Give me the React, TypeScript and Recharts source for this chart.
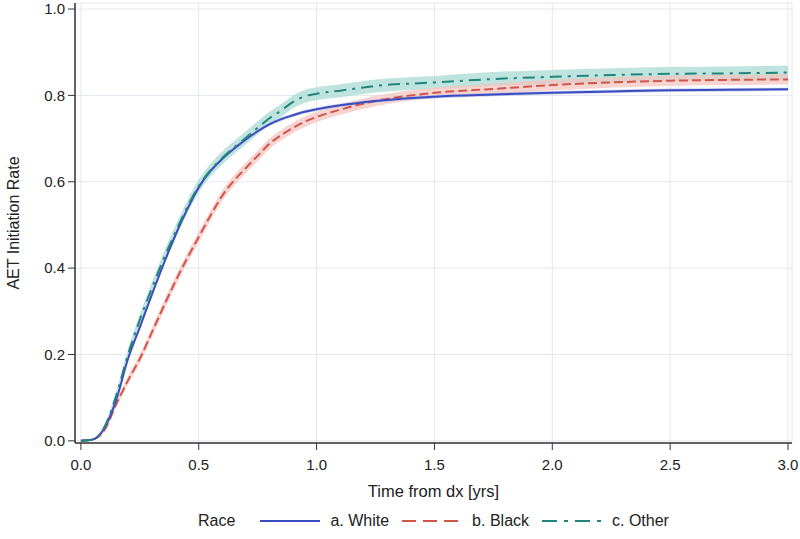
import React from "react";
import {
  ComposedChart,
  Line,
  Area,
  XAxis,
  YAxis,
  CartesianGrid,
  Legend,
} from "recharts";

// time from diagnosis in years
const times = [0, 0.05, 0.1, 0.15, 0.2, 0.25, 0.3, 0.35, 0.4, 0.45, 0.5, 0.55, 0.6, 0.7, 0.75, 0.8, 0.85, 0.9, 0.95, 1.0, 1.1, 1.25, 1.5, 1.75, 2.0, 2.25, 2.5, 2.75, 3.0];

const white = [0, 0.003, 0.03, 0.095, 0.19, 0.263, 0.337, 0.408, 0.475, 0.535, 0.587, 0.625, 0.653, 0.698, 0.717, 0.733, 0.745, 0.754, 0.762, 0.768, 0.777, 0.787, 0.797, 0.802, 0.806, 0.809, 0.812, 0.813, 0.814];
const black = [0, 0.003, 0.025, 0.085, 0.14, 0.19, 0.25, 0.31, 0.368, 0.422, 0.472, 0.522, 0.568, 0.632, 0.66, 0.688, 0.708, 0.725, 0.739, 0.75, 0.767, 0.787, 0.806, 0.815, 0.824, 0.83, 0.834, 0.836, 0.837];
const other = [0, 0.003, 0.032, 0.105, 0.2, 0.28, 0.352, 0.42, 0.482, 0.54, 0.59, 0.627, 0.655, 0.702, 0.725, 0.747, 0.765, 0.785, 0.798, 0.804, 0.811, 0.822, 0.83, 0.838, 0.843, 0.847, 0.85, 0.851, 0.853];

// confidence band half-widths
const whiteCI = [0, 0, 0.002, 0.003, 0.004, 0.004, 0.004, 0.004, 0.004, 0.004, 0.004, 0.004, 0.004, 0.004, 0.004, 0.004, 0.004, 0.004, 0.004, 0.004, 0.004, 0.004, 0.004, 0.004, 0.004, 0.004, 0.004, 0.004, 0.004];
const blackCI = [0, 0.001, 0.005, 0.008, 0.01, 0.011, 0.011, 0.012, 0.012, 0.012, 0.012, 0.012, 0.012, 0.012, 0.012, 0.012, 0.012, 0.012, 0.012, 0.012, 0.012, 0.012, 0.012, 0.012, 0.012, 0.012, 0.012, 0.012, 0.012];
const otherCI = [0, 0.001, 0.006, 0.01, 0.012, 0.013, 0.014, 0.015, 0.015, 0.015, 0.015, 0.015, 0.015, 0.015, 0.015, 0.015, 0.015, 0.015, 0.015, 0.015, 0.015, 0.015, 0.015, 0.016, 0.016, 0.016, 0.016, 0.016, 0.016];

const xTicks = [0, 0.5, 1.0, 1.5, 2.0, 2.5, 3.0];
const yTicks = [0, 0.2, 0.4, 0.6, 0.8, 1.0];

const data = times.map((t, i) => ({
  t,
  white: white[i],
  black: black[i],
  other: other[i],
  whiteBand: [white[i] - whiteCI[i], white[i] + whiteCI[i]],
  blackBand: [black[i] - blackCI[i], black[i] + blackCI[i]],
  otherBand: [other[i] - otherCI[i], other[i] + otherCI[i]],
}));

const BLUE = "#3b4cc0";
const RED = "#d0564c";
const TEAL = "#23857a";
const FONT = "'Liberation Sans', Arial, sans-serif";

const legendItems = [
  { label: "a. White", color: BLUE, dash: undefined },
  { label: "b. Black", color: RED, dash: "14 7" },
  { label: "c. Other", color: TEAL, dash: "15 7 4 7" },
];

function RaceLegend() {
  return (
    <div
      style={{
        display: "flex",
        justifyContent: "center",
        alignItems: "center",
        height: 26,
        fontFamily: FONT,
        fontSize: 16,
        color: "#222",
      }}
    >
      <span style={{ marginRight: 25 }}>Race</span>
      {legendItems.map((it, i) => (
        <span key={it.label} style={{ display: "flex", alignItems: "center", marginLeft: i === 0 ? 0 : 13 }}>
          <svg width={60} height={6} style={{ marginRight: 10 }}>
            <line x1={0} y1={3} x2={60} y2={3} stroke={it.color} strokeWidth={2} strokeDasharray={it.dash} />
          </svg>
          <span>{it.label}</span>
        </span>
      ))}
    </div>
  );
}

export default function App() {
  const tickStyle = { fill: "#222", fontSize: 15, fontFamily: FONT };
  return (
    <div style={{ position: "absolute", left: 0, top: 0, background: "#fff" }}>
      <ComposedChart width={800} height={539} data={data} margin={{ top: 3, right: 8, left: 0, bottom: 5 }}>
        <CartesianGrid stroke="#e4e7ee" strokeWidth={1} />
        <XAxis
          dataKey="t"
          type="number"
          domain={[-0.025, 3.017]}
          ticks={xTicks}
          tickFormatter={(v: number) => v.toFixed(1)}
          allowDataOverflow
          height={65}
          tick={tickStyle}
          tickSize={7}
          tickMargin={9}
          axisLine={{ stroke: "#333", strokeWidth: 1.5 }}
          tickLine={{ stroke: "#333" }}
          label={{ value: "Time from dx [yrs]", position: "insideBottom", offset: 11, style: { fill: "#222", fontSize: 16.5, fontFamily: FONT } }}
        />
        <XAxis xAxisId="top" orientation="top" type="number" height={0} tick={false} tickLine={false} axisLine={{ stroke: "#333", strokeWidth: 1.5 }} />
        <YAxis
          type="number"
          domain={[-0.005, 1.014]}
          ticks={yTicks}
          tickFormatter={(v: number) => v.toFixed(1)}
          allowDataOverflow
          width={75}
          tick={tickStyle}
          tickSize={7}
          tickMargin={3}
          axisLine={{ stroke: "#333", strokeWidth: 1.5 }}
          tickLine={{ stroke: "#333" }}
          label={{ value: "AET Initiation Rate", angle: -90, position: "insideLeft", offset: 13, style: { textAnchor: "middle", fill: "#222", fontSize: 16, fontFamily: FONT } }}
        />
        <YAxis yAxisId="right" orientation="right" width={0} tick={false} tickLine={false} axisLine={{ stroke: "#333", strokeWidth: 1.5 }} />
        <Area dataKey="otherBand" type="monotone" stroke="none" fill="#a9dbd4" fillOpacity={0.75} isAnimationActive={false} legendType="none" />
        <Area dataKey="blackBand" type="monotone" stroke="none" fill="#f4c2bc" fillOpacity={0.7} isAnimationActive={false} legendType="none" />
        <Area dataKey="whiteBand" type="monotone" stroke="none" fill="#a9b3e6" fillOpacity={0.6} isAnimationActive={false} legendType="none" />
        <Line dataKey="black" type="monotone" stroke={RED} strokeWidth={2} strokeDasharray="9 4" dot={false} isAnimationActive={false} />
        <Line dataKey="white" type="monotone" stroke={BLUE} strokeWidth={2} dot={false} isAnimationActive={false} />
        <Line dataKey="other" type="monotone" stroke={TEAL} strokeWidth={2} strokeDasharray="12 6 3 6" dot={false} isAnimationActive={false} />
        <Legend verticalAlign="bottom" content={<RaceLegend />} wrapperStyle={{ left: 75, width: 717 }} />
      </ComposedChart>
    </div>
  );
}
